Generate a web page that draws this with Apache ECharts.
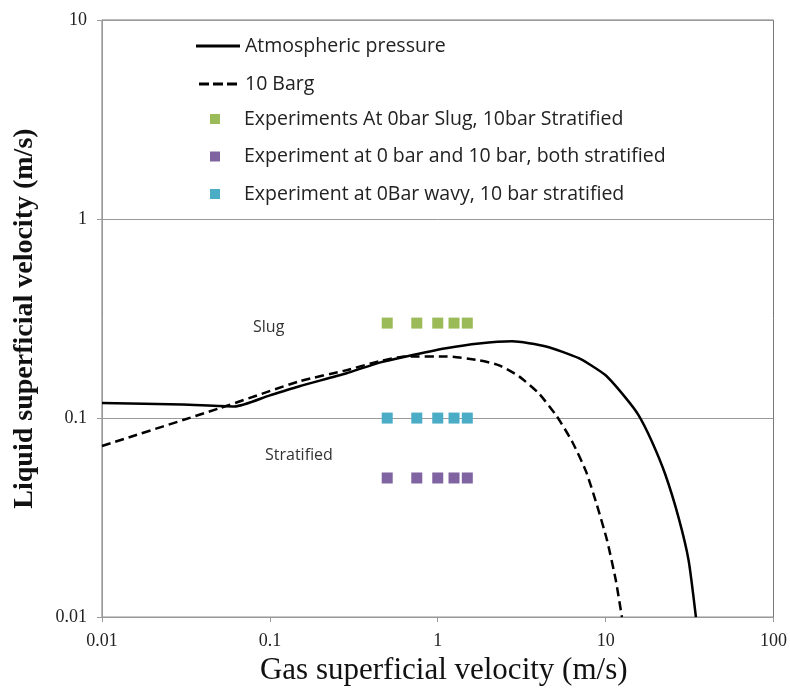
<!DOCTYPE html>
<html>
<head>
<meta charset="utf-8">
<script src="https://cdn.jsdelivr.net/npm/echarts@6/dist/echarts.min.js"></script>
<style>html,body{margin:0;padding:0;background:#fff}#c{width:790px;height:691px}</style>
</head>
<body>
<div id="c"></div>
<script>
// Atmospheric pressure boundary [gas velocity, liquid velocity]
var atmospheric = [
  [0.01,0.119],[0.03,0.117],[0.0616,0.1144],[0.1,0.13],[0.15,0.1445],[0.286,0.168],
  [0.45,0.19],[0.648,0.204],[1.12,0.224],[1.76,0.237],[2.77,0.243],[4.41,0.229],
  [6.92,0.2],[10,0.164],[13.2,0.126],[15.7,0.1035],[18.8,0.0767],[22.7,0.0519],
  [27.2,0.0316],[31.2,0.0193],[34.5,0.01]
];
// 10 Barg boundary
var barg10 = [
  [0.01,0.0724],[0.05,0.112],[0.15,0.153],[0.286,0.174],[0.45,0.193],[0.648,0.204],
  [1.12,0.204],[1.76,0.195],[2.32,0.184],[3.05,0.162],[4.0,0.133],[5.12,0.102],
  [6.29,0.0767],[7.62,0.0543],[8.86,0.0367],[10.2,0.0243],[11.5,0.0153],[12.5,0.01]
];
var expGas = [0.5, 0.75, 1.0, 1.25, 1.5];
var slugLiquid = [0.3, 0.3, 0.3, 0.3, 0.3];
var stratLiquid = [0.05, 0.05, 0.05, 0.05, 0.05];
var wavyLiquid = [0.1, 0.1, 0.1, 0.1, 0.1];
var xTickLabels = ['0.01', '0.1', '1', '10', '100'];
var yTickLabels = ['0.01', '0.1', '1', '10'];

function pairs(xs, ys) { return xs.map(function (x, i) { return [x, ys[i]]; }); }
function tickFmt(labels, minExp) {
  return function (v) {
    var k = Math.round(Math.log10(v)) - minExp;
    return labels[k] !== undefined ? labels[k] : '';
  };
}

var names = {
  a: 'Atmospheric pressure',
  b: '10 Barg',
  g: 'Experiments At 0bar Slug, 10bar Stratified',
  p: 'Experiment at 0 bar and 10 bar, both stratified',
  c: 'Experiment at 0Bar wavy, 10 bar stratified'
};
var legendFont = { fontFamily: 'Open Sans', fontSize: 19.5, color: '#222', lineHeight: 20 };
var serif = 'Liberation Serif';
var solidIcon = 'path://M0,0H44V3H0Z';
var dashIcon = 'path://M0,0H10V3H0Z M14,0H24V3H14Z M28,0H38V3H28Z';

var chart = echarts.init(document.getElementById('c'), null, { renderer: 'canvas' });
chart.setOption({
  animation: false,
  backgroundColor: '#fff',
  grid: { left: 102, right: 16, top: 20, bottom: 72, show: true, borderColor: '#777', borderWidth: 1 },
  legend: [
    {
      data: [{ name: names.a, icon: solidIcon }, { name: names.b, icon: dashIcon }],
      orient: 'vertical', left: 196, top: 36, padding: 0,
      itemWidth: 44, itemHeight: 3, itemGap: 18, textStyle: legendFont
    },
    {
      data: [names.g, names.p, names.c], orient: 'vertical', left: 210, top: 109, padding: 0,
      itemWidth: 10, itemHeight: 10, itemGap: 17.5, icon: 'rect',
      textStyle: Object.assign({ padding: [0, 0, 0, 19] }, legendFont)
    }
  ],
  xAxis: {
    type: 'log', logBase: 10, min: 0.01, max: 100, interval: 1,
    name: 'Gas superficial velocity (m/s)', nameLocation: 'middle', nameGap: 36,
    nameTextStyle: { fontFamily: serif, fontSize: 31, color: '#111', padding: [0, 0, 0, 12] },
    axisLine: { lineStyle: { color: '#999', width: 1 } },
    axisTick: { show: true, length: 5, lineStyle: { color: '#999' } },
    minorTick: { show: false },
    splitLine: { show: false },
    axisLabel: { fontFamily: serif, fontSize: 18, color: '#222', margin: 15, formatter: tickFmt(xTickLabels, -2) }
  },
  yAxis: {
    type: 'log', logBase: 10, min: 0.01, max: 10, interval: 1,
    name: 'Liquid superficial velocity (m/s)', nameLocation: 'middle', nameGap: 63,
    nameTextStyle: { fontFamily: serif, fontSize: 28, fontWeight: 'bold', color: '#111' },
    axisLine: { show: true, lineStyle: { color: '#999', width: 1 } },
    axisTick: { show: true, length: 5, lineStyle: { color: '#999' } },
    minorTick: { show: false },
    splitLine: { show: true, lineStyle: { color: '#999', width: 1 } },
    axisLabel: { fontFamily: serif, fontSize: 18, color: '#222', margin: 15, formatter: tickFmt(yTickLabels, -2) }
  },
  graphic: [
    { type: 'text', left: 253, top: 319, style: { text: 'Slug', font: '16px "Open Sans"', fill: '#333' } },
    { type: 'text', left: 265, top: 447, style: { text: 'Stratified', font: '16px "Open Sans"', fill: '#333' } }
  ],
  series: [
    {
      name: names.a, type: 'line', data: atmospheric, symbol: 'none', smooth: 0.2,
      lineStyle: { color: '#000', width: 2.5 }, itemStyle: { color: '#000' }, z: 3
    },
    {
      name: names.b, type: 'line', data: barg10, symbol: 'none', smooth: 0.2,
      lineStyle: { color: '#000', width: 2.5, type: [9, 5] }, itemStyle: { color: '#000' }, z: 3
    },
    {
      name: names.g, type: 'scatter', data: pairs(expGas, slugLiquid), symbol: 'rect', symbolSize: 11,
      itemStyle: { color: '#9BBB59', opacity: 1 }, z: 4
    },
    {
      name: names.p, type: 'scatter', data: pairs(expGas, stratLiquid), symbol: 'rect', symbolSize: 11,
      itemStyle: { color: '#8064A2', opacity: 1 }, z: 4
    },
    {
      name: names.c, type: 'scatter', data: pairs(expGas, wavyLiquid), symbol: 'rect', symbolSize: 11,
      itemStyle: { color: '#4BACC6', opacity: 1 }, z: 4
    }
  ]
});
</script>
</body>
</html>
